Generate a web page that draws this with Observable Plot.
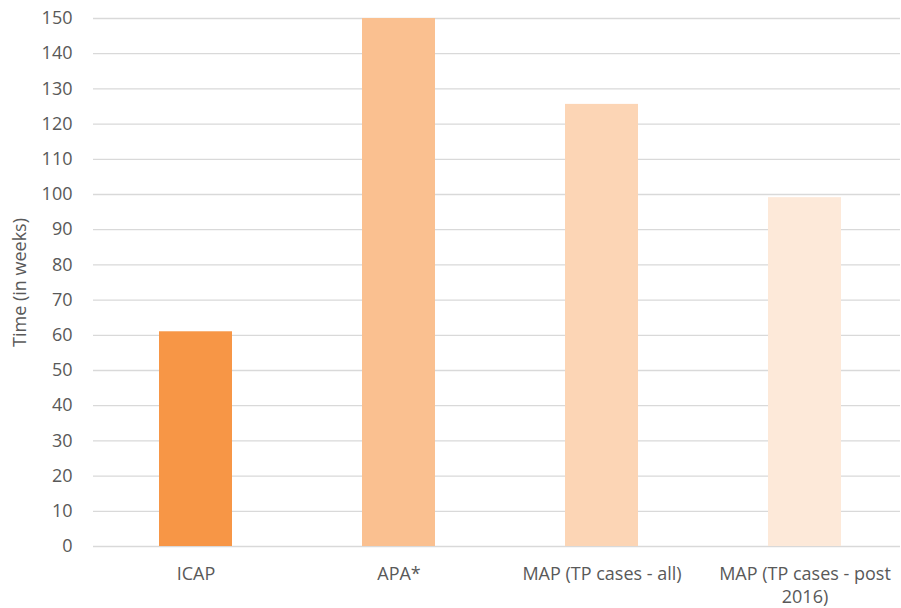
<!DOCTYPE html>
<html>
<head>
<meta charset="utf-8">
<script src="https://cdn.jsdelivr.net/npm/d3@7"></script>
<script src="https://cdn.jsdelivr.net/npm/@observablehq/plot@0.6"></script>
<style>
  html, body { margin: 0; padding: 0; background: #ffffff; }
  #chart { width: 901px; height: 608px; }
</style>
</head>
<body>
<div id="chart"></div>
<script>
const categories = ["ICAP", "APA*", "MAP (TP cases - all)", "MAP (TP cases - post 2016)"];
const tickLabels = ["ICAP", "APA*", "MAP (TP cases - all)", "MAP (TP cases - post\n2016)"];
const values = [61, 150, 125.6, 99.1];
const colors = ["#F79646", "#FAC090", "#FCD5B5", "#FDE9D9"];
const yTicks = d3.range(0, 151, 10);
const yTitle = "Time (in weeks)";

const data = categories.map((c, i) => ({ category: c, value: values[i] }));

const chart = Plot.plot({
  width: 901,
  height: 608,
  marginTop: 18,
  marginBottom: 62,
  marginLeft: 93,
  marginRight: 1,
  style: { fontFamily: "'Open Sans', sans-serif", fontSize: "18px", color: "#595959", background: "#ffffff" },
  x: { domain: categories, range: [92.7, 907.4], paddingInner: 0.64, paddingOuter: 0.32, label: null },
  y: { domain: [0, 150], label: null },
  color: { domain: categories, range: colors },
  marks: [
    Plot.ruleY(yTicks, { stroke: "#D9D9D9", strokeWidth: 1.3 }),
    Plot.barY(data, { x: "category", y: "value", fill: "category" }),
    Plot.axisY({ ticks: yTicks, tickSize: 0, tickPadding: 21, label: null, fill: "#595959" }),
    Plot.axisX({ tickSize: 0, tickPadding: 18, label: null, fill: "#595959", lineHeight: 1.25,
      tickFormat: (d) => tickLabels[categories.indexOf(d)] }),
    Plot.text([yTitle], { frameAnchor: "left", textAnchor: "middle", dx: -73, rotate: -90, text: (d) => d, fill: "#595959", fontSize: 18 })
  ]
});
document.getElementById("chart").appendChild(chart);
</script>
</body>
</html>
